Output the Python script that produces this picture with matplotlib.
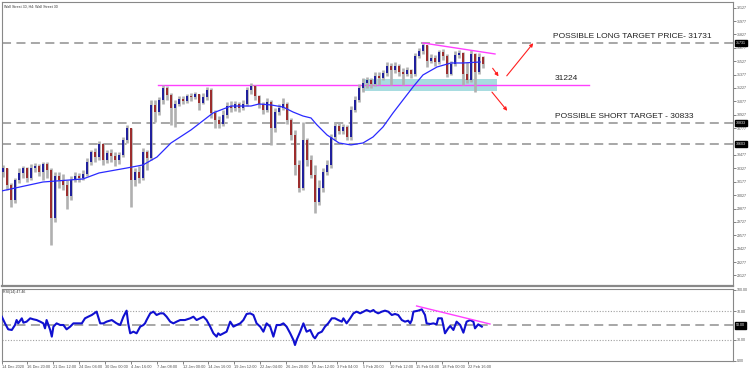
import numpy as np
import matplotlib.pyplot as plt
from matplotlib.patches import Rectangle
from matplotlib.transforms import blended_transform_factory

plt.rcParams['font.family'] = ['Liberation Sans', 'DejaVu Sans']

# H4 candles, Wall Street 30 (open = previous close)
first_open = 30286
close = [30331, 30141, 29973, 30197, 30275, 30331, 30219, 30331, 30353, 30286,
         30376, 30309, 29771, 30241, 30197, 30141, 30017, 30197, 30241, 30219,
         30264, 30398, 30510, 30454, 30600, 30421, 30499, 30465, 30421, 30477,
         30645, 30779, 30197, 30286, 30219, 30510, 30443, 31037, 30958, 31093,
         31227, 31149, 31003, 31048, 31104, 31081, 31137, 31126, 31160, 31059,
         31126, 31205, 30947, 30869, 30824, 30925, 31025, 31003, 31048, 31003,
         31048, 31205, 31249, 31137, 31048, 30981, 31070, 30779, 30958, 31003,
         31048, 30869, 30701, 30365, 30107, 30645, 30421, 30253, 29950, 30107,
         30286, 30365, 30678, 30801, 30745, 30790, 30678, 30981, 31093, 31227,
         31283, 31317, 31272, 31361, 31339, 31395, 31473, 31429, 31473, 31406,
         31384, 31429, 31384, 31585, 31641, 31709, 31529, 31563, 31518, 31630,
         31585, 31384, 31496, 31597, 31619, 31384, 31317, 31608, 31406, 31574,
         31496]
high = [30365, 30331, 30163, 30219, 30331, 30353, 30342, 30376, 30387, 30376,
        30398, 30398, 30331, 30286, 30286, 30264, 30197, 30241, 30286, 30275,
        30309, 30443, 30533, 30555, 30633, 30611, 30533, 30544, 30510, 30510,
        30678, 30813, 30779, 30331, 30353, 30555, 30533, 31093, 31093, 31126,
        31261, 31249, 31171, 31093, 31137, 31137, 31160, 31171, 31182, 31149,
        31171, 31238, 31227, 30981, 30913, 30981, 31070, 31081, 31081, 31070,
        31093, 31238, 31283, 31261, 31149, 31070, 31115, 31093, 31003, 31048,
        31115, 31070, 30891, 30757, 30421, 30846, 30667, 30477, 30365, 30197,
        30331, 30421, 30712, 30846, 30835, 30824, 30813, 31025, 31137, 31272,
        31339, 31350, 31339, 31406, 31406, 31429, 31518, 31507, 31518, 31496,
        31451, 31462, 31440, 31619, 31675, 31731, 31709, 31608, 31597, 31653,
        31664, 31608, 31529, 31641, 31653, 31630, 31518, 31653, 31619, 31619,
        31585]
low = [30230, 30085, 29894, 29939, 30163, 30219, 30174, 30197, 30286, 30241,
       30197, 30219, 29469, 29726, 30107, 30085, 29872, 29973, 30174, 30174,
       30197, 30241, 30365, 30398, 30421, 30365, 30387, 30398, 30353, 30376,
       30454, 30611, 29894, 30129, 30163, 30197, 30309, 30421, 30846, 30925,
       31048, 31093, 30813, 30790, 31025, 31048, 31059, 31081, 31104, 30981,
       31048, 31093, 30891, 30779, 30779, 30801, 30891, 30958, 30969, 30958,
       30981, 31025, 31160, 31093, 31003, 30936, 30958, 30589, 30734, 30925,
       30981, 30824, 30645, 30253, 30062, 30085, 30353, 30219, 29827, 29917,
       30062, 30253, 30331, 30645, 30712, 30712, 30645, 30645, 30958, 31070,
       31182, 31227, 31227, 31249, 31261, 31317, 31361, 31261, 31395, 31361,
       31261, 31361, 31339, 31361, 31563, 31608, 31462, 31507, 31473, 31496,
       31541, 31350, 31373, 31473, 31563, 31261, 31283, 31294, 31182, 31384,
       31451]

# moving average on the price panel
ma_idx = [-0.3, 10, 20, 24, 31, 35, 38.5, 42, 47, 52.5, 57, 62, 64, 67, 70, 72.5,
          75, 77, 78.5, 81, 84, 87, 90, 92.5, 95, 97.5, 100, 102.5, 105, 108.5,
          112, 115, 119.3]
ma_val = [30074, 30174, 30208, 30275, 30331, 30365, 30454, 30611, 30757, 30947,
          31025, 31025, 31048, 31037, 31014, 30958, 30913, 30891, 30813, 30701,
          30611, 30589, 30611, 30678, 30790, 30947, 31093, 31238, 31373, 31462,
          31507, 31507, 31518]

# RSI(14)
rsi_idx = [-0.3, 0.5, 1.3, 2.2, 3.0, 3.4, 3.8, 4.7, 5.1, 5.9,
           6.8, 7.6, 8.4, 9.3, 10.1, 10.5, 10.9, 11.8, 12.2, 12.6,
           13.4, 14.3, 15.1, 15.9, 16.8, 17.6, 18.4, 19.7, 20.5, 21.3,
           22.2, 23.4, 24.3, 25.1, 25.9, 27.2, 28.4, 29.3, 30.1, 30.9,
           31.3, 31.8, 32.6, 33.4, 34.3, 35.1, 35.5, 35.9, 36.8, 37.6,
           38.4, 39.3, 40.1, 40.9, 41.8, 42.6, 43.4, 44.3, 45.5, 46.8,
           47.6, 48.4, 49.3, 50.1, 50.9, 51.8, 52.6, 53.4, 53.8, 54.3,
           55.1, 55.9, 56.8, 57.6, 58.4, 59.3, 60.1, 60.9, 61.8, 62.6,
           63.4, 64.3, 65.1, 65.9, 66.8, 67.6, 68.4, 69.3, 70.1, 70.9,
           71.8, 72.6, 73.0, 73.4, 74.3, 75.1, 75.9, 76.8, 77.6, 78.0,
           78.8, 79.7, 80.5, 81.3, 82.2, 83.0, 83.8, 84.7, 85.1, 85.9,
           86.8, 87.6, 88.4, 89.3, 90.1, 90.9, 91.8, 92.6,
           93.0, 93.8, 94.7, 95.5, 96.3, 97.2, 98.0, 98.8, 99.7, 100.5,
           101.3, 101.8, 102.2, 102.6, 103.8, 104.7, 105.5, 105.9, 106.8, 107.6,
           108.4, 108.8, 109.7, 110.5, 111.3, 111.8, 112.6, 113.4, 114.3, 115.1,
           115.9, 116.8, 117.6, 118.0, 118.8, 119.7]
rsi_val = [62.4, 53.0, 44.6, 43.7, 50.7, 57.7, 53.0, 60.1, 54.0, 55.4,
           60.1, 58.7, 57.7, 55.4, 53.0, 46.0, 57.7, 43.7, 34.3, 48.4,
           53.0, 50.7, 50.7, 44.6, 48.4, 53.0, 53.0, 53.0, 60.1, 62.4,
           64.8, 69.5, 53.0, 53.0, 55.4, 57.7, 53.0, 50.7, 62.4, 70.9,
           53.0, 39.0, 41.3, 39.0, 48.4, 50.7, 53.0, 57.7, 67.1, 69.5,
           64.8, 67.1, 67.1, 62.4, 55.4, 53.0, 55.4, 57.7, 57.7, 60.1,
           62.4, 57.7, 60.1, 62.4, 57.7, 48.4, 39.0, 34.3, 39.0, 36.6,
           39.0, 41.3, 55.4, 48.4, 50.7, 53.0, 57.7, 66.2, 67.1, 64.8,
           53.0, 48.4, 41.3, 53.0, 48.4, 34.3, 50.7, 50.7, 53.0, 48.4,
           39.0, 29.6, 22.5, 29.6, 41.3, 53.0, 41.3, 43.7, 34.3, 31.9,
           39.0, 41.3, 48.4, 53.0, 60.1, 60.1, 57.7, 55.4, 60.1, 53.0,
           60.1, 67.1, 69.5, 67.1, 69.5, 71.8, 69.5, 71.8,
           69.5, 67.1, 69.5, 70.9, 69.5, 64.8, 66.2, 64.8, 57.7, 55.4,
           56.8, 53.0, 57.7, 69.5, 70.9, 72.8, 64.8, 53.0, 52.1, 53.0,
           51.6, 60.1, 60.1, 39.0, 46.0, 49.3, 43.7, 55.4, 50.7, 39.9,
           55.4, 57.7, 55.4, 46.0, 51.6, 48.4]

date_pos = [-0.2, 6.0, 12.5, 19.0, 25.5, 32.0, 38.5, 45.0, 51.25, 57.75,
            64.25, 70.75, 77.25, 83.5, 90.0, 96.75, 103.25, 109.75, 116.25]
date_labels = ['14 Dec 2020', '16 Dec 20:00', '21 Dec 12:00', '24 Dec 04:00',
               '30 Dec 00:00', '4 Jan 16:00', '7 Jan 08:00', '12 Jan 00:00',
               '14 Jan 16:00', '19 Jan 12:00', '22 Jan 04:00', '26 Jan 20:00',
               '29 Jan 12:00', '3 Feb 04:00', '5 Feb 20:00', '10 Feb 12:00',
               '15 Feb 04:00', '18 Feb 00:00', '22 Feb 16:00']
# 30627 sits under the 30603 marker, so it is left out
price_ticks = [32127, 31977, 31827, 31677, 31527, 31377, 31227, 31077, 30927,
               30777, 30477, 30327, 30177, 30027, 29877, 29727, 29577,
               29427, 29277, 29127]
rsi_ticks = [0, 30, 70, 100]
rsi_ticklabels = ['0.00', '30.00', '70.00', '100.00']

long_target = 31731
short_target = 30833
lower_level = 30603
level_line = 31255
level_x = [38.75, 146.5]
box_x = [89.75, 123.5]
box_y = [31197, 31332]
top_trend_x = [105, 123]
top_trend_y = [31731, 31608]
rsi_trend_x = [103.4, 121.75]
rsi_trend_y = [77.5, 52.1]

# candle arrays
opens = np.array([first_open] + close[:-1])
cl = np.array(close)
hi = np.maximum(np.array(high), np.maximum(opens, cl))
lo = np.minimum(np.array(low), np.minimum(opens, cl))
x = np.arange(len(cl))
up = cl >= opens

fig = plt.figure(figsize=(7.5, 3.72), dpi=100)
ax = fig.add_axes([2/750, 1 - 286/372, 731/750, 284/372])
ax2 = fig.add_axes([2/750, 1 - 361/372, 731/750, 72/372])

xlim = (-0.25, 182.5)
grey = '#a0a0a0'
dash = (0, (5, 3))

# ---- price panel
ax.set_xlim(*xlim)
ax.set_ylim(29009, 32190)
ax.add_patch(Rectangle((box_x[0], box_y[0]), box_x[1] - box_x[0], box_y[1] - box_y[0],
                       facecolor='#a8dce0', edgecolor='none', zorder=1))
for lvl in [long_target, short_target, lower_level]:
    ax.axhline(lvl, color=grey, lw=1.3, ls=dash, zorder=1)
ax.plot(level_x, [level_line, level_line], color='#ff40ff', lw=1.0, zorder=2)
ax.plot(top_trend_x, top_trend_y, color='#ff40ff', lw=1.0, zorder=4)

ax.vlines(x, lo, hi, color='#b0b0b0', lw=1.9, zorder=2)
ax.vlines(x[up], opens[up], cl[up], color='#1c1c9c', lw=1.4, zorder=3)
ax.vlines(x[~up], cl[~up], opens[~up], color='#9c2a2a', lw=1.4, zorder=3)
ax.plot(ma_idx, ma_val, color='#2a2aff', lw=0.9, zorder=4)

arrow = dict(arrowstyle='-|>', color='#ff2020', lw=0.8, mutation_scale=5)
ax.annotate('', xy=(133, 31753), xytext=(125.5, 31339), arrowprops=arrow)
ax.annotate('', xy=(124.3, 31332), xytext=(122, 31473), arrowprops=arrow)
ax.annotate('', xy=(126.5, 30947), xytext=(121.8, 31205), arrowprops=arrow)

ax.text(137.5, 31798, 'POSSIBLE LONG TARGET PRICE- 31731', fontsize=6,
        color='#222222', va='center', ha='left')
ax.text(138, 31328, '31224', fontsize=6, color='#222222', va='center', ha='left')
ax.text(138, 30902, 'POSSIBLE SHORT TARGET - 30833', fontsize=6,
        color='#222222', va='center', ha='left')
ax.text(0.003, 0.985, 'Wall Street 30, H4: Wall Street 30', transform=ax.transAxes,
        fontsize=2.6, color='#333333', va='center', ha='left')

ax.set_xticks([])
ax.yaxis.tick_right()
ax.set_yticks(price_ticks)
ax.tick_params(axis='y', labelsize=2.6, length=2, width=0.5, colors='#505050', pad=1)

tr = blended_transform_factory(ax.transAxes, ax.transData)
for lvl in [long_target, short_target, lower_level]:
    ax.text(1.004, lvl, str(lvl), transform=tr, fontsize=2.6, color='white',
            va='center', ha='left', zorder=10,
            bbox=dict(boxstyle='square,pad=0.3', fc='black', ec='black'))

for s in ax.spines.values():
    s.set_color('#888888')
    s.set_linewidth(0.8)
ax.spines['bottom'].set_linewidth(1.6)

# ---- RSI panel
ax2.set_xlim(*xlim)
ax2.set_ylim(0, 101.4)
ax2.axhline(70, color=grey, lw=0.8, ls=(0, (1, 1.5)))
ax2.axhline(30, color=grey, lw=0.8, ls=(0, (1, 1.5)))
ax2.axhline(50, color=grey, lw=1.3, ls=dash)
ax2.plot(rsi_idx, rsi_val, color='#1010d0', lw=1.5, zorder=3)
ax2.plot(rsi_trend_x, rsi_trend_y, color='#ff40ff', lw=1.0, zorder=4)
ax2.text(0.002, 0.96, 'RSI(14) 47.46', transform=ax2.transAxes, fontsize=2.6,
         color='#333333', va='center', ha='left')

ax2.yaxis.tick_right()
ax2.set_yticks(rsi_ticks)
ax2.set_yticklabels(rsi_ticklabels)
ax2.tick_params(axis='y', labelsize=2.6, length=2, width=0.5, colors='#505050', pad=1)
ax2.set_xticks(date_pos)
ax2.set_xticklabels(date_labels, ha='left')
ax2.tick_params(axis='x', labelsize=2.8, length=2, width=0.5, colors='#505050', pad=1)
tr2 = blended_transform_factory(ax2.transAxes, ax2.transData)
ax2.text(1.004, 50, '50.00', transform=tr2, fontsize=2.6, color='white',
         va='center', ha='left', zorder=10,
         bbox=dict(boxstyle='square,pad=0.3', fc='black', ec='black'))
for s in ax2.spines.values():
    s.set_color('#888888')
    s.set_linewidth(0.8)

fig.savefig('out.png', dpi=100)
